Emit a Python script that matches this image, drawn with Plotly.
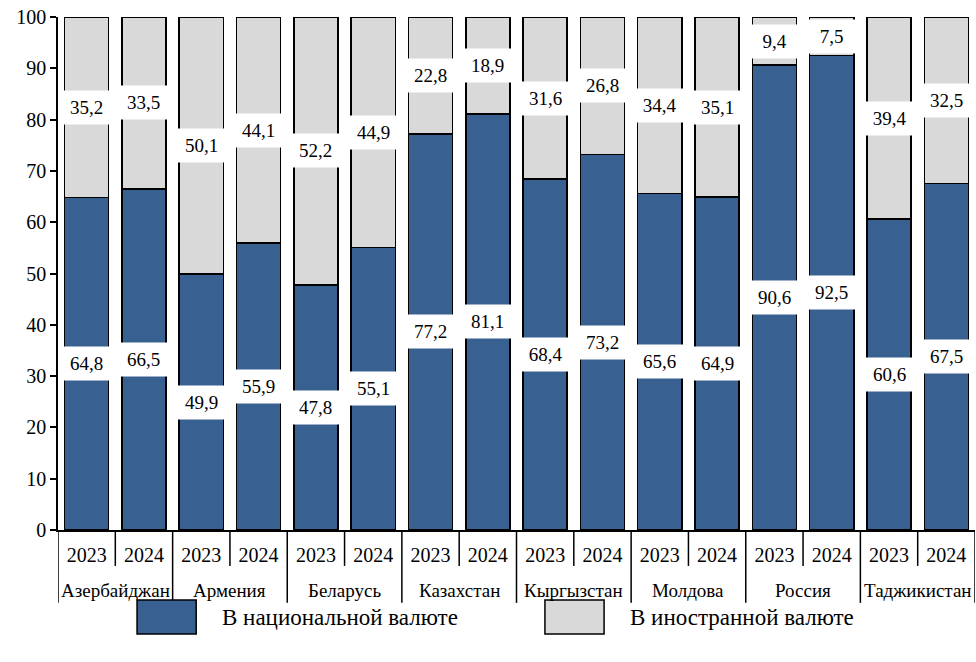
import plotly.graph_objects as go

countries = ["Азербайджан", "Армения", "Беларусь", "Казахстан", "Кыргызстан",
             "Молдова", "Россия", "Таджикистан"]
years = ["2023", "2024"]
national = [64.8, 66.5, 49.9, 55.9, 47.8, 55.1, 77.2, 81.1, 68.4, 73.2,
            65.6, 64.9, 90.6, 92.5, 60.6, 67.5]
foreign = [35.2, 33.5, 50.1, 44.1, 52.2, 44.9, 22.8, 18.9, 31.6, 26.8,
           34.4, 35.1, 9.4, 7.5, 39.4, 32.5]
series_names = ["В национальной валюте", "В иностранной валюте"]

BLUE = "#386192"
GRAY = "#d9d9d9"
FONT = "Liberation Serif, Times New Roman, serif"

cats = [f"{c} {y}" for c in countries for y in years]
ylabels = [y for _ in countries for y in years]

fig = go.Figure()
fig.add_trace(go.Bar(x=cats, y=national, name=series_names[0], marker_color=BLUE,
                     marker_line_color="black", marker_line_width=1.5, showlegend=False))
fig.add_trace(go.Bar(x=cats, y=foreign, name=series_names[1], marker_color=GRAY,
                     marker_line_color="black", marker_line_width=1.5, showlegend=False))

def fmt(v):
    return f"{v:.1f}".replace(".", ",")

for i in range(len(national)):
    for val, ypos in ((national[i], national[i] / 2),
                      (foreign[i], national[i] + foreign[i] / 2)):
        fig.add_annotation(x=cats[i], y=ypos, text=fmt(val), showarrow=False,
                           bgcolor="white", width=45, height=25, borderpad=4,
                           font=dict(family=FONT, size=19, color="black"))

# category dividers and country labels
n = len(cats)
for b in range(n + 1):
    is_group = (b % len(years) == 0)
    fig.add_shape(type="line", xref="x", yref="paper", x0=b - 0.5, x1=b - 0.5,
                  y0=0, y1=-0.142 if is_group else -0.070,
                  line=dict(color="black", width=1.5))
for k, c in enumerate(countries):
    fig.add_annotation(xref="x", yref="paper", x=k * len(years) + 0.5, y=-0.117,
                       text=c, showarrow=False, yanchor="middle",
                       font=dict(family=FONT, size=19, color="black"))

# manual legend
for j, (name, col) in enumerate(zip(series_names, [BLUE, GRAY])):
    x0 = [0.0862, 0.531][j]
    fig.add_shape(type="rect", xref="paper", yref="paper", x0=x0, x1=x0 + 0.0645,
                  y0=-0.2027, y1=-0.1365, fillcolor=col, line=dict(color="black", width=1.5))
    fig.add_annotation(xref="paper", yref="paper", x=x0 + 0.0905, y=-0.1696, text=name,
                       showarrow=False, xanchor="left", yanchor="middle",
                       font=dict(family=FONT, size=23, color="black"))

fig.update_layout(
    barmode="stack", bargap=0.23,
    width=976, height=662,
    margin=dict(l=58, r=1, t=17, b=132),
    paper_bgcolor="white", plot_bgcolor="white",
    font=dict(family=FONT, size=20, color="black"),
)
fig.update_yaxes(range=[0, 100], dtick=10, showgrid=False, showline=True,
                 linecolor="black", linewidth=1.5, ticks="outside", ticklen=6,
                 tickwidth=1.5, tickcolor="black", zeroline=False,
                 tickfont=dict(family=FONT, size=20, color="black"))
fig.update_xaxes(type="category", showline=True, linecolor="black", linewidth=1.5,
                 ticks="", tickmode="array", tickvals=cats, ticktext=ylabels,
                 ticklabelstandoff=6, showgrid=False, range=[-0.5, n - 0.5],
                 tickfont=dict(family=FONT, size=20, color="black"))

fig.write_html("out.html", config={"displayModeBar": False},
               post_script="document.body.style.margin='0';")
